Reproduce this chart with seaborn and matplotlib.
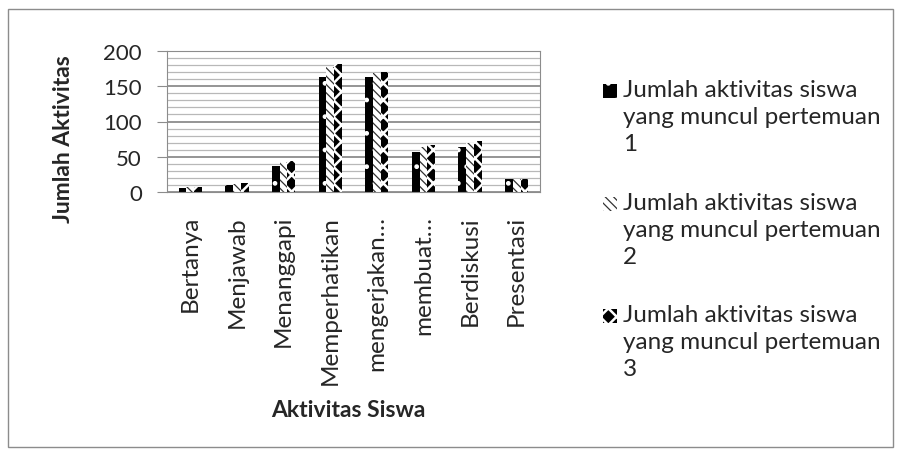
import matplotlib
matplotlib.use("Agg")
import matplotlib.pyplot as plt
from matplotlib.patches import Rectangle
import seaborn as sns
import pandas as pd

# data
aktivitas = ["Bertanya", "Menjawab", "Menanggapi", "Memperhatikan",
             "mengerjakan…", "membuat…", "Berdiskusi", "Presentasi"]
pertemuan_1 = [5, 10, 37, 163, 163, 57, 64, 18]
pertemuan_2 = [7, 12, 42, 178, 169, 64, 70, 18]
pertemuan_3 = [7, 13, 44, 182, 170, 66, 72, 18]
series_labels = ["Jumlah aktivitas siswa\nyang muncul pertemuan\n1",
                 "Jumlah aktivitas siswa\nyang muncul pertemuan\n2",
                 "Jumlah aktivitas siswa\nyang muncul pertemuan\n3"]

df = pd.DataFrame({
    "aktivitas": aktivitas * 3,
    "jumlah": pertemuan_1 + pertemuan_2 + pertemuan_3,
    "pertemuan": [series_labels[0]] * 8 + [series_labels[1]] * 8 + [series_labels[2]] * 8,
})

sns.set_style("white")
plt.rcParams['font.family'] = ['Lato', 'DejaVu Sans']
plt.rcParams['hatch.linewidth'] = 1.0

W, H = 900, 456
fig = plt.figure(figsize=(W / 100, H / 100), dpi=100)
# plot area in pixels: x 167..540, y 52..193
ax = fig.add_axes([167 / W, 1 - 193 / H, 373 / W, 141 / H])

sns.barplot(data=df, x="aktivitas", y="jumlah", hue="pertemuan",
            order=aktivitas, hue_order=series_labels, width=0.5,
            ax=ax, legend=False, errorbar=None)

styles = [
    dict(facecolor="black", edgecolor="white", hatch=".", hlw=1.0),
    dict(facecolor="white", edgecolor="#333333", hatch="\\\\\\\\", hlw=0.9),
    dict(facecolor="black", edgecolor="white", hatch="xx", hlw=1.8),
]


def style_patch(p, st):
    p.set_facecolor(st["facecolor"])
    p.set_edgecolor(st["edgecolor"])
    p.set_hatch(st["hatch"])
    p.set_linewidth(0)
    if hasattr(p, "set_hatch_linewidth"):
        p.set_hatch_linewidth(st["hlw"])


for cont, st in zip(ax.containers, styles):
    for p in cont:
        style_patch(p, st)

ax.set_ylim(0, 200)
ax.set_yticks(range(0, 201, 50))
ax.set_yticks(range(0, 201, 10), minor=True)
ax.grid(axis="y", which="major", color="#8c8c8c", lw=1.3)
ax.grid(axis="y", which="minor", color="#b8b8b8", lw=0.9)
ax.set_axisbelow(True)
for s in ax.spines.values():
    s.set_color("#8c8c8c")
ax.tick_params(axis="y", which="major", left=True, length=7, color="#8c8c8c",
               labelsize=16, pad=11)
ax.tick_params(axis="y", which="minor", left=False)
ax.tick_params(axis="x", bottom=False, labelsize=17.5, pad=13)
ax.set_xticks(range(len(aktivitas)))
ax.set_xticklabels(aktivitas, rotation=90, va="top", ha="center")
ax.set_xlim(-0.5, len(aktivitas) - 0.5)

ax.set_xlabel("Aktivitas Siswa", fontsize=16.5, fontweight="bold")
ax.set_ylabel("Jumlah Aktivitas", fontsize=16.5, fontweight="bold")
ax.xaxis.set_label_coords(0.485, -1.47)
ax.yaxis.set_label_coords(-0.25, 0.383)

# legend: marker beside the first line of each wrapped label
legend_tops = [80, 193, 305]
for lab, st, top in zip(series_labels, styles, legend_tops):
    mk = Rectangle((603 / W, 1 - (top + 19) / H), 14 / W, 14 / H,
                   transform=fig.transFigure)
    style_patch(mk, st)
    fig.patches.append(mk)
    fig.text(623 / W, 1 - top / H, lab, fontsize=17.5, va="top", ha="left",
             linespacing=1.35)

fig.patches.append(Rectangle((8 / W, 1 - 448 / H), 885 / W, 438 / H,
                             transform=fig.transFigure, fill=False,
                             edgecolor="#8c8c8c", lw=1))

fig.savefig("out.png", dpi=100)
